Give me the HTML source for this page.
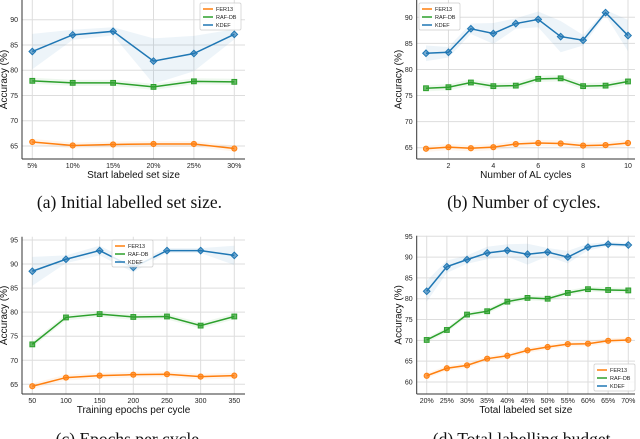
<!DOCTYPE html>
<html><head><meta charset="utf-8"><style>
body{margin:0;background:#fff;width:640px;height:439px;overflow:hidden}
svg{display:block}
</style></head><body>
<svg id="c" width="640" height="439" viewBox="0 0 640 439" font-family="Liberation Sans, sans-serif"></svg>
<script>
const aCats=["5%","10%","15%","20%","25%","30%"];
const aFER=[65.8,65.1,65.3,65.4,65.4,64.5];
const aRAF=[77.9,77.5,77.5,76.7,77.8,77.7];
const aKDEF=[83.7,87.0,87.7,81.8,83.3,87.1];
const aKDEFsd=[3.5,1,0.8,4.5,3.5,1];
const bCats=["1","2","3","4","5","6","7","8","9","10"];
const bTicks=["2","4","6","8","10"];
const bFER=[64.8,65.1,64.9,65.1,65.7,65.9,65.8,65.4,65.5,65.9];
const bRAF=[76.4,76.6,77.5,76.8,76.9,78.2,78.3,76.8,76.9,77.7];
const bKDEF=[83.1,83.3,87.8,86.9,88.8,89.6,86.3,85.6,90.9,86.5];
const bKDEFsd=[1.5,1,1,2,1,1.5,3,1,0.5,3];
const cCats=["50","100","150","200","250","300","350"];
const cFER=[64.6,66.4,66.8,67.0,67.1,66.6,66.8];
const cRAF=[73.3,78.9,79.6,79.0,79.1,77.2,79.1];
const cKDEF=[88.5,91.0,92.8,89.3,92.8,92.8,91.8];
const cKDEFsd=[3,0.8,1,1,0.5,0.5,2];
const dCats=["20%","25%","30%","35%","40%","45%","50%","55%","60%","65%","70%"];
const dFER=[61.5,63.3,64.0,65.6,66.3,67.6,68.4,69.1,69.2,69.9,70.1];
const dRAF=[70.1,72.5,76.2,77.0,79.3,80.2,80.0,81.4,82.3,82.1,82.0];
const dKDEF=[81.8,87.7,89.4,91.0,91.6,90.7,91.2,90.0,92.4,93.1,92.9];
const dKDEFsd=[2.5,1.5,1,1.5,1.5,2.5,1,1.5,0.8,0.5,0.5];
const svg=document.getElementById('c');
const NS='http://www.w3.org/2000/svg';
function E(t,a,p){const e=document.createElementNS(NS,t);for(const k in a)e.setAttribute(k,a[k]);(p||svg).appendChild(e);return e;}
const COL={FER13:'#ff7f0e','RAF-DB':'#2ca02c',KDEF:'#1f77b4'};
function panel(o){
 const g=E('g',{});
 const n=o.cats.length;
 const X=i=>o.x0+(o.x1-o.x0)*i/(n-1);
 const Y=v=>o.yA+(v-o.vA)*(o.yB-o.yA)/(o.vB-o.vA);
 o.yt.forEach(v=>{E('line',{x1:o.L,x2:o.R,y1:Y(v),y2:Y(v),stroke:'#ddd','stroke-width':1},g);
  const t=E('text',{x:o.L-4,y:Y(v)+2.5,'font-size':7,'text-anchor':'end',fill:'#222'},g);t.textContent=v;});
 o.cats.forEach((c,i)=>{
  if(o.xt && !o.xt.includes(c))return;
  E('line',{x1:X(i),x2:X(i),y1:o.T,y2:o.B,stroke:'#ddd','stroke-width':1},g);
  const t=E('text',{x:X(i),y:o.B+9,'font-size':7,'text-anchor':'middle',fill:'#222'},g);t.textContent=c;});
 E('line',{x1:o.L,x2:o.L,y1:o.T,y2:o.B,stroke:'#333','stroke-width':1},g);
 E('line',{x1:o.L,x2:o.R,y1:o.B,y2:o.B,stroke:'#333','stroke-width':1},g);
 const xl=E('text',{x:(o.L+o.R)/2,y:o.B+19,'font-size':10,'text-anchor':'middle',fill:'#111'},g);xl.textContent=o.xlabel;
 const yl=E('text',{x:0,y:0,'font-size':10,'text-anchor':'middle',fill:'#111',transform:`translate(${o.L-15},${(o.T+o.B)/2}) rotate(-90)`},g);yl.textContent='Accuracy (%)';
 const cap=E('text',{x:(o.L+o.R)/2+o.capDx,y:o.capY,'font-size':17.5,'text-anchor':'middle','font-family':'Liberation Serif, serif',fill:'#111'},g);cap.textContent=o.caption;
 const series=[['FER13',o.fer,null,'c'],['RAF-DB',o.raf,null,'s'],['KDEF',o.kdef,o.ksd,'d']];
 series.forEach(([nm,vals,sd,mk])=>{
  const col=COL[nm];
  const s=sd||vals.map(()=>0.6);
  let up=vals.map((v,i)=>X(i)+','+Y(v+s[i])).join(' ');
  let dn=vals.map((v,i)=>X(i)+','+Y(v-s[i])).reverse().join(' ');
  E('polygon',{points:up+' '+dn,fill:col,'fill-opacity':0.08,stroke:'none'},g);
  const pl=E('polyline',{points:vals.map((v,i)=>X(i)+','+Y(v)).join(' '),fill:'none',stroke:col,'stroke-width':1.5},g);
  
  
  vals.forEach((v,i)=>{let m;
   if(mk==='c')m=E('circle',{cx:X(i),cy:Y(v),r:2.6,fill:col,'fill-opacity':0.7,stroke:col},g);
   else if(mk==='s')m=E('rect',{x:X(i)-2.4,y:Y(v)-2.4,width:4.8,height:4.8,fill:col,'fill-opacity':0.7,stroke:col},g);
   else m=E('polygon',{points:`${X(i)},${Y(v)-3.3} ${X(i)+3.3},${Y(v)} ${X(i)},${Y(v)+3.3} ${X(i)-3.3},${Y(v)}`,fill:col,'fill-opacity':0.6,stroke:col},g);
   
   });
 });
 const lg=E('g',{},g);
 E('rect',{x:o.lx,y:o.ly,width:41,height:27,fill:'#fff','fill-opacity':0.85,stroke:'#ccc','stroke-width':0.7,rx:1.5},lg);
 ['FER13','RAF-DB','KDEF'].forEach((nm,k)=>{const yy=o.ly+6+k*8;
  E('line',{x1:o.lx+3,x2:o.lx+13,y1:yy,y2:yy,stroke:COL[nm],'stroke-width':1.5},lg);
  const t=E('text',{x:o.lx+16,y:yy+2,'font-size':5.5,fill:'#222'},lg);t.textContent=nm;});
}
panel({name:'panel-a',cats:aCats,fer:aFER,raf:aRAF,kdef:aKDEF,ksd:aKDEFsd,L:22,R:245,T:0,B:159,x0:32.3,x1:234.3,yA:19.7,vA:90,yB:146,vB:65,yt:[65,70,75,80,85,90],xlabel:'Start labeled set size',caption:'(a) Initial labelled set size.',capY:208,capDx:-4,lx:200,ly:3});
panel({name:'panel-b',cats:bCats,xt:bTicks,fer:bFER,raf:bRAF,kdef:bKDEF,ksd:bKDEFsd,L:416.7,R:635,T:0,B:159,x0:426,x1:628,yA:17.3,vA:90,yB:147.7,vB:65,yt:[65,70,75,80,85,90],xlabel:'Number of AL cycles',caption:'(b) Number of cycles.',capY:208,capDx:-2,lx:419,ly:3});
panel({name:'panel-c',cats:cCats,fer:cFER,raf:cRAF,kdef:cKDEF,ksd:cKDEFsd,L:22,R:245,T:236.7,B:394,x0:32.3,x1:234.3,yA:240,vA:95,yB:384.3,vB:65,yt:[65,70,75,80,85,90,95],xlabel:'Training epochs per cycle',caption:'(c) Epochs per cycle.',capY:445,capDx:-4,lx:112,ly:240});
panel({name:'panel-d',cats:dCats,fer:dFER,raf:dRAF,kdef:dKDEF,ksd:dKDEFsd,L:416.7,R:635,T:235.7,B:394,x0:426.7,x1:628.3,yA:236.3,vA:95,yB:382,vB:60,yt:[60,65,70,75,80,85,90,95],xlabel:'Total labeled set size',caption:'(d) Total labelling budget.',capY:445,capDx:-2,lx:594,ly:364});
</script>
</body></html>
